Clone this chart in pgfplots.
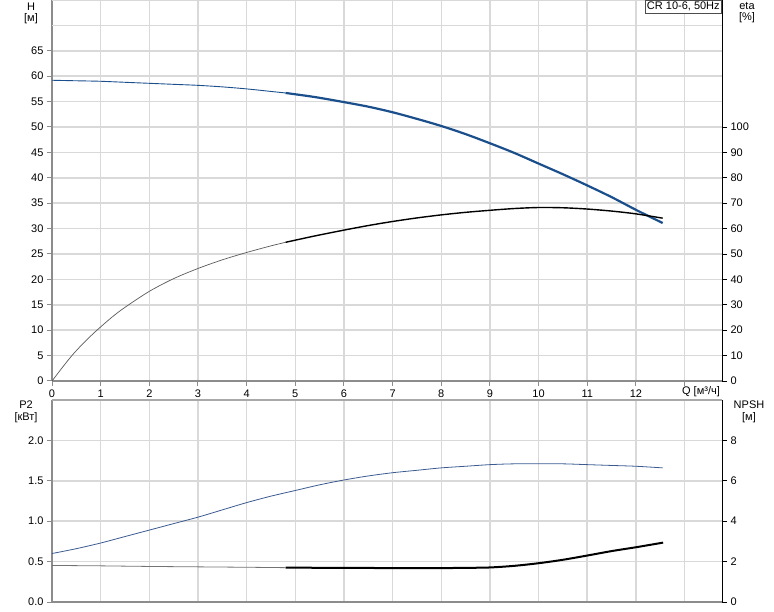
\documentclass[border=0pt]{standalone}
\usepackage{fontspec}
\setmainfont{Liberation Sans}
\usepackage{pgfplots}
\pgfplotsset{compat=1.18}
\definecolor{hblue}{HTML}{1B4F8C}
\definecolor{pblue}{HTML}{3A5A90}
\definecolor{gridc}{HTML}{D9D9D9}
\definecolor{spinec}{HTML}{8C8C8C}
\begin{document}
\begin{tikzpicture}
\path[use as bounding box] (0,0) rectangle (774pt,611pt);
\pgfplotsset{
  base/.style={scale only axis, width=670pt, xmin=0, xmax=13.77,
    /pgf/number format/assume math mode=true,
    tick label style={font=\fontsize{11}{13}\selectfont, text=black},
    tick align=outside, major tick length=5pt, clip=false},
  leftax/.style={base, axis x line*=bottom, axis y line*=left,
    axis line style={spinec, line width=2.5pt},
    tick style={spinec, line width=1pt},
    grid=major, grid style={gridc, line width=1.5pt},
    xtick={0,1,2,3,4,5,6,7,8,9,10,11,12,13}},
  rightax/.style={base, axis x line=none, axis y line*=right,
    axis line style={black, line width=0.8pt},
    tick style={black, line width=0.8pt}, grid=none},
}
% ---------- top panel ----------
\begin{axis}[leftax, at={(52pt,230pt)}, anchor=south west, height=381pt,
  ymin=0, ymax=75,
  xticklabels={0,1,2,3,4,5,6,7,8,9,10,11,12,{}},
  ytick={0,5,10,15,20,25,30,35,40,45,50,55,60,65},
  extra y ticks={70,75}, extra y tick labels={},
  extra y tick style={/pgfplots/major tick length=0pt}]
\addplot[hblue, line width=0.9pt, smooth] coordinates {
(0,59.2)(0.5,59.1)(1,59.0)(1.5,58.8)(2,58.6)(2.5,58.4)(3,58.2)(3.5,57.9)(4,57.5)(4.5,57.0)(4.8,56.7)};
\addplot[hblue, line width=2.2pt, smooth] coordinates {
(4.8,56.7)(5.4,55.9)(6,54.9)(6.5,54.0)(7,52.9)(7.5,51.6)(8,50.2)(8.5,48.6)(9,46.8)(9.5,44.9)(10,42.8)(10.5,40.7)(11,38.5)(11.5,36.2)(12,33.7)(12.55,31.1)};
\end{axis}
\begin{axis}[rightax, at={(52pt,230pt)}, anchor=south west, height=381pt,
  ymin=0, ymax=150, ytick={0,10,20,30,40,50,60,70,80,90,100}]
\addplot[black!65, line width=0.7pt, smooth] coordinates {
(0,0)(0.2,5.0)(0.4,9.8)(0.6,14.0)(0.8,17.8)(1,21.3)(1.25,25.4)(1.5,29.0)(2,35.3)(2.5,40.3)(3,44.3)(3.5,47.7)(4,50.6)(4.5,53.2)(4.8,54.6)};
\addplot[black, line width=1.4pt, smooth] coordinates {
(4.8,54.6)(5.4,57.1)(6,59.4)(6.5,61.2)(7,62.8)(7.5,64.2)(8,65.4)(8.5,66.4)(9,67.2)(9.5,67.9)(10,68.3)(10.5,68.2)(11,67.7)(11.5,66.9)(12,65.8)(12.55,64.1)};
\end{axis}
% ---------- bottom panel ----------
\begin{axis}[leftax, at={(52pt,9pt)}, anchor=south west, height=202pt,
  ymin=0, ymax=2.5, xticklabels={}, x tick style={/pgfplots/major tick length=0pt},
  ytick={0,0.5,1,1.5,2},
  yticklabel style={/pgf/number format/.cd, fixed, fixed zerofill, precision=1}]
\draw[spinec!75, line width=2pt] (rel axis cs:0,1) -- (rel axis cs:1,1);
\addplot[pblue, line width=0.8pt, smooth] coordinates {
(0,0.60)(0.5,0.66)(1,0.73)(1.5,0.81)(2,0.89)(2.5,0.97)(3,1.05)(3.5,1.14)(4,1.23)(4.5,1.31)(5,1.38)(5.5,1.45)(6,1.51)(6.5,1.56)(7,1.60)(7.5,1.63)(8,1.66)(8.5,1.68)(9,1.70)(9.5,1.71)(10,1.71)(10.5,1.71)(11,1.70)(11.5,1.69)(12,1.68)(12.55,1.66)};
\end{axis}
\begin{axis}[rightax, at={(52pt,9pt)}, anchor=south west, height=202pt,
  ymin=0, ymax=10, ytick={0,2,4,6,8}]
\addplot[black!55, line width=0.8pt] coordinates {
(0,1.81)(1,1.79)(2,1.76)(3,1.74)(4,1.72)(4.8,1.70)};
\addplot[black, line width=2pt, smooth] coordinates {
(4.8,1.70)(6,1.69)(7,1.68)(8,1.68)(8.5,1.69)(9,1.71)(9.5,1.79)(10,1.92)(10.5,2.09)(11,2.30)(11.5,2.52)(12,2.71)(12.56,2.94)};
\end{axis}
% ---------- labels ----------
\begin{scope}[every node/.style={font=\fontsize{11}{13}\selectfont, inner sep=0pt}]
\node at (31pt,604pt) {H};
\node at (31pt,592pt) {[м]};
\node at (747pt,605pt) {eta};
\node at (747pt,593pt) {[\%]};
\node at (701pt,219pt) {Q [м³/ч]};
\node at (26pt,206pt) {P2};
\node at (26pt,193pt) {[кВт]};
\node at (749pt,206pt) {NPSH};
\node at (749pt,193pt) {[м]};
\node[draw=black!70, fill=white, inner sep=2pt, anchor=north east, line width=0.6pt] at (722pt,611pt) {CR 10-6, 50Hz};
\end{scope}
\end{tikzpicture}
\end{document}
